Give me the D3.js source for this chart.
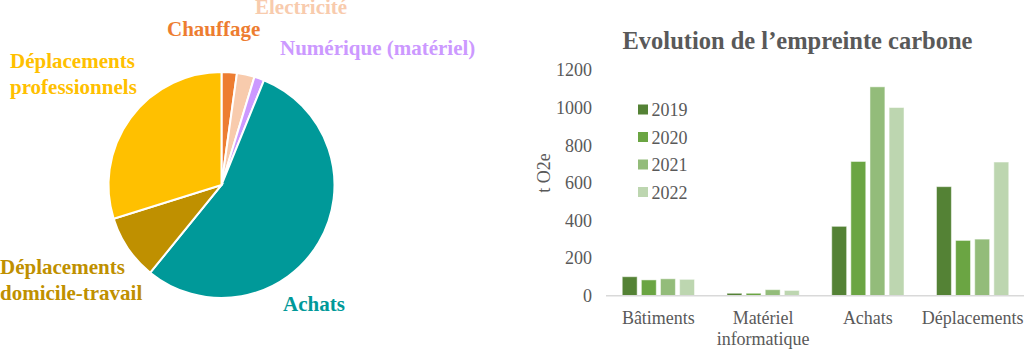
<!DOCTYPE html>
<html>
<head>
<meta charset="utf-8">
<script src="https://cdn.jsdelivr.net/npm/d3@7"></script>
<style>
  body { margin: 0; background: #fff; }
  svg text { font-family: "Liberation Serif", "Times New Roman", serif; }
</style>
</head>
<body>
<div id="chart"></div>
<script>
// donnees camembert (2022, t CO2e)
var pieCategories = ["Chauffage", "Electricité", "Numérique (matériel)", "Achats", "Déplacements domicile-travail", "Déplacements professionnels"];
var pieValues = [40, 46, 26, 1000, 170, 545];
var pieColors = ["#ED7D31", "#F8CBAD", "#CC99FF", "#009999", "#BF9000", "#FFC000"];

// donnees histogramme
var barCategories = [["Bâtiments"], ["Matériel", "informatique"], ["Achats"], ["Déplacements"]];
var years = ["2019", "2020", "2021", "2022"];
var values2019 = [101, 13, 369, 580];
var values2020 = [84, 13, 714, 294];
var values2021 = [90, 32, 1111, 301];
var values2022 = [87, 28, 1001, 711];
var yearColors = ["#548235", "#6BA543", "#93BC7A", "#BDD6B0"];
var yTicks = [0, 200, 400, 600, 800, 1000, 1200];

var W = 1024, H = 349;
var FONT = "'Liberation Serif', 'Times New Roman', serif";
var svg = d3.select("#chart").append("svg").attr("width", W).attr("height", H);

// ---------- camembert ----------
var cx = 221.5, cy = 185, R = 113;
var pie = d3.pie().sort(null).value(function (d) { return d; });
var arc = d3.arc().innerRadius(0).outerRadius(R);
var gPie = svg.append("g").attr("transform", "translate(" + cx + "," + cy + ")");
gPie.selectAll("path")
    .data(pie(pieValues))
    .enter()
    .append("path")
    .attr("d", arc)
    .attr("fill", function (d, i) { return pieColors[i]; })
    .attr("stroke", "#fff")
    .attr("stroke-width", 2);

// emplacement des etiquettes (lignes, x, y de la ligne de base)
var pieLabelPos = [
    { lines: ["Chauffage"], x: 167, y: 36 },
    { lines: ["Electricité"], x: 255, y: 14 },
    { lines: ["Numérique (matériel)"], x: 280, y: 55 },
    { lines: ["Achats"], x: 283, y: 311 },
    { lines: ["Déplacements", "domicile-travail"], x: 0, y: 274 },
    { lines: ["Déplacements", "professionnels"], x: 10, y: 68 }
];
pieLabelPos.forEach(function (p, i) {
    var t = svg.append("text")
        .attr("x", p.x).attr("y", p.y)
        .style("font-family", FONT)
        .attr("font-size", 21)
        .attr("font-weight", "bold")
        .attr("fill", pieColors[i]);
    p.lines.forEach(function (l, k) {
        t.append("tspan").attr("x", p.x).attr("dy", k === 0 ? 0 : 25.5).text(l);
    });
});

// ---------- histogramme ----------
var plot = { left: 606, right: 1025, top: 70.1, bottom: 295.7 };
var series = [values2019, values2020, values2021, values2022];

var x0 = d3.scaleBand().domain(d3.range(barCategories.length))
    .range([plot.left, plot.right]).paddingInner(0.31).paddingOuter(0.155);
var x1 = d3.scaleBand().domain(years).range([0, x0.bandwidth()]).paddingInner(0.22);
var y = d3.scaleLinear().domain([0, 1200]).range([plot.bottom, plot.top]);

svg.append("text")
    .attr("x", 797.5).attr("y", 48.5)
    .attr("text-anchor", "middle")
    .style("font-family", FONT)
    .attr("font-size", 24.5)
    .attr("font-weight", "bold")
    .attr("fill", "#595959")
    .text("Evolution de l’empreinte carbone");

// axe y (sans ligne)
var yAxis = svg.append("g")
    .attr("transform", "translate(" + 592 + ",0)")
    .call(d3.axisLeft(y).tickValues(yTicks).tickSize(0).tickPadding(0).tickFormat(d3.format("d")));
yAxis.select(".domain").remove();
yAxis.selectAll("text")
    .style("font-family", FONT)
    .style("font-size", "18px")
    .attr("fill", "#595959");

svg.append("text")
    .attr("transform", "translate(550,173) rotate(-90)")
    .attr("text-anchor", "middle")
    .style("font-family", FONT)
    .attr("font-size", 18)
    .attr("fill", "#595959")
    .text("t O2e");

// barres
var groups = svg.selectAll("g.cat")
    .data(barCategories)
    .enter()
    .append("g")
    .attr("class", "cat")
    .attr("transform", function (d, i) { return "translate(" + x0(i) + ",0)"; });
groups.selectAll("rect")
    .data(function (d, i) { return series.map(function (s, k) { return { year: years[k], v: s[i], k: k }; }); })
    .enter()
    .append("rect")
    .attr("x", function (d) { return x1(d.year); })
    .attr("y", function (d) { return y(d.v); })
    .attr("width", x1.bandwidth())
    .attr("height", function (d) { return y(0) - y(d.v); })
    .attr("fill", function (d) { return yearColors[d.k]; })
    .attr("stroke", "#fff")
    .attr("stroke-opacity", 0.5)
    .attr("stroke-width", 1);

// axe x
svg.append("line")
    .attr("x1", plot.left).attr("x2", plot.right)
    .attr("y1", y(0)).attr("y2", y(0))
    .attr("stroke", "#D9D9D9").attr("stroke-width", 1.5);

barCategories.forEach(function (lines, i) {
    var t = svg.append("text")
        .attr("x", x0(i) + x0.bandwidth() / 2)
        .attr("y", 324)
        .attr("text-anchor", "middle")
        .style("font-family", FONT)
        .attr("font-size", 18)
        .attr("fill", "#595959");
    lines.forEach(function (l, k) {
        t.append("tspan").attr("x", x0(i) + x0.bandwidth() / 2).attr("dy", k === 0 ? 0 : 21).text(l);
    });
});

// legende
years.forEach(function (yr, k) {
    var ly = 109.5 + k * 27.5;
    svg.append("rect")
        .attr("x", 638).attr("y", ly - 5)
        .attr("width", 10).attr("height", 10)
        .attr("fill", yearColors[k]);
    svg.append("text")
        .attr("x", 651.5).attr("y", ly + 6.5)
        .style("font-family", FONT)
        .attr("font-size", 18)
        .attr("fill", "#595959")
        .text(yr);
});
</script>
</body>
</html>
